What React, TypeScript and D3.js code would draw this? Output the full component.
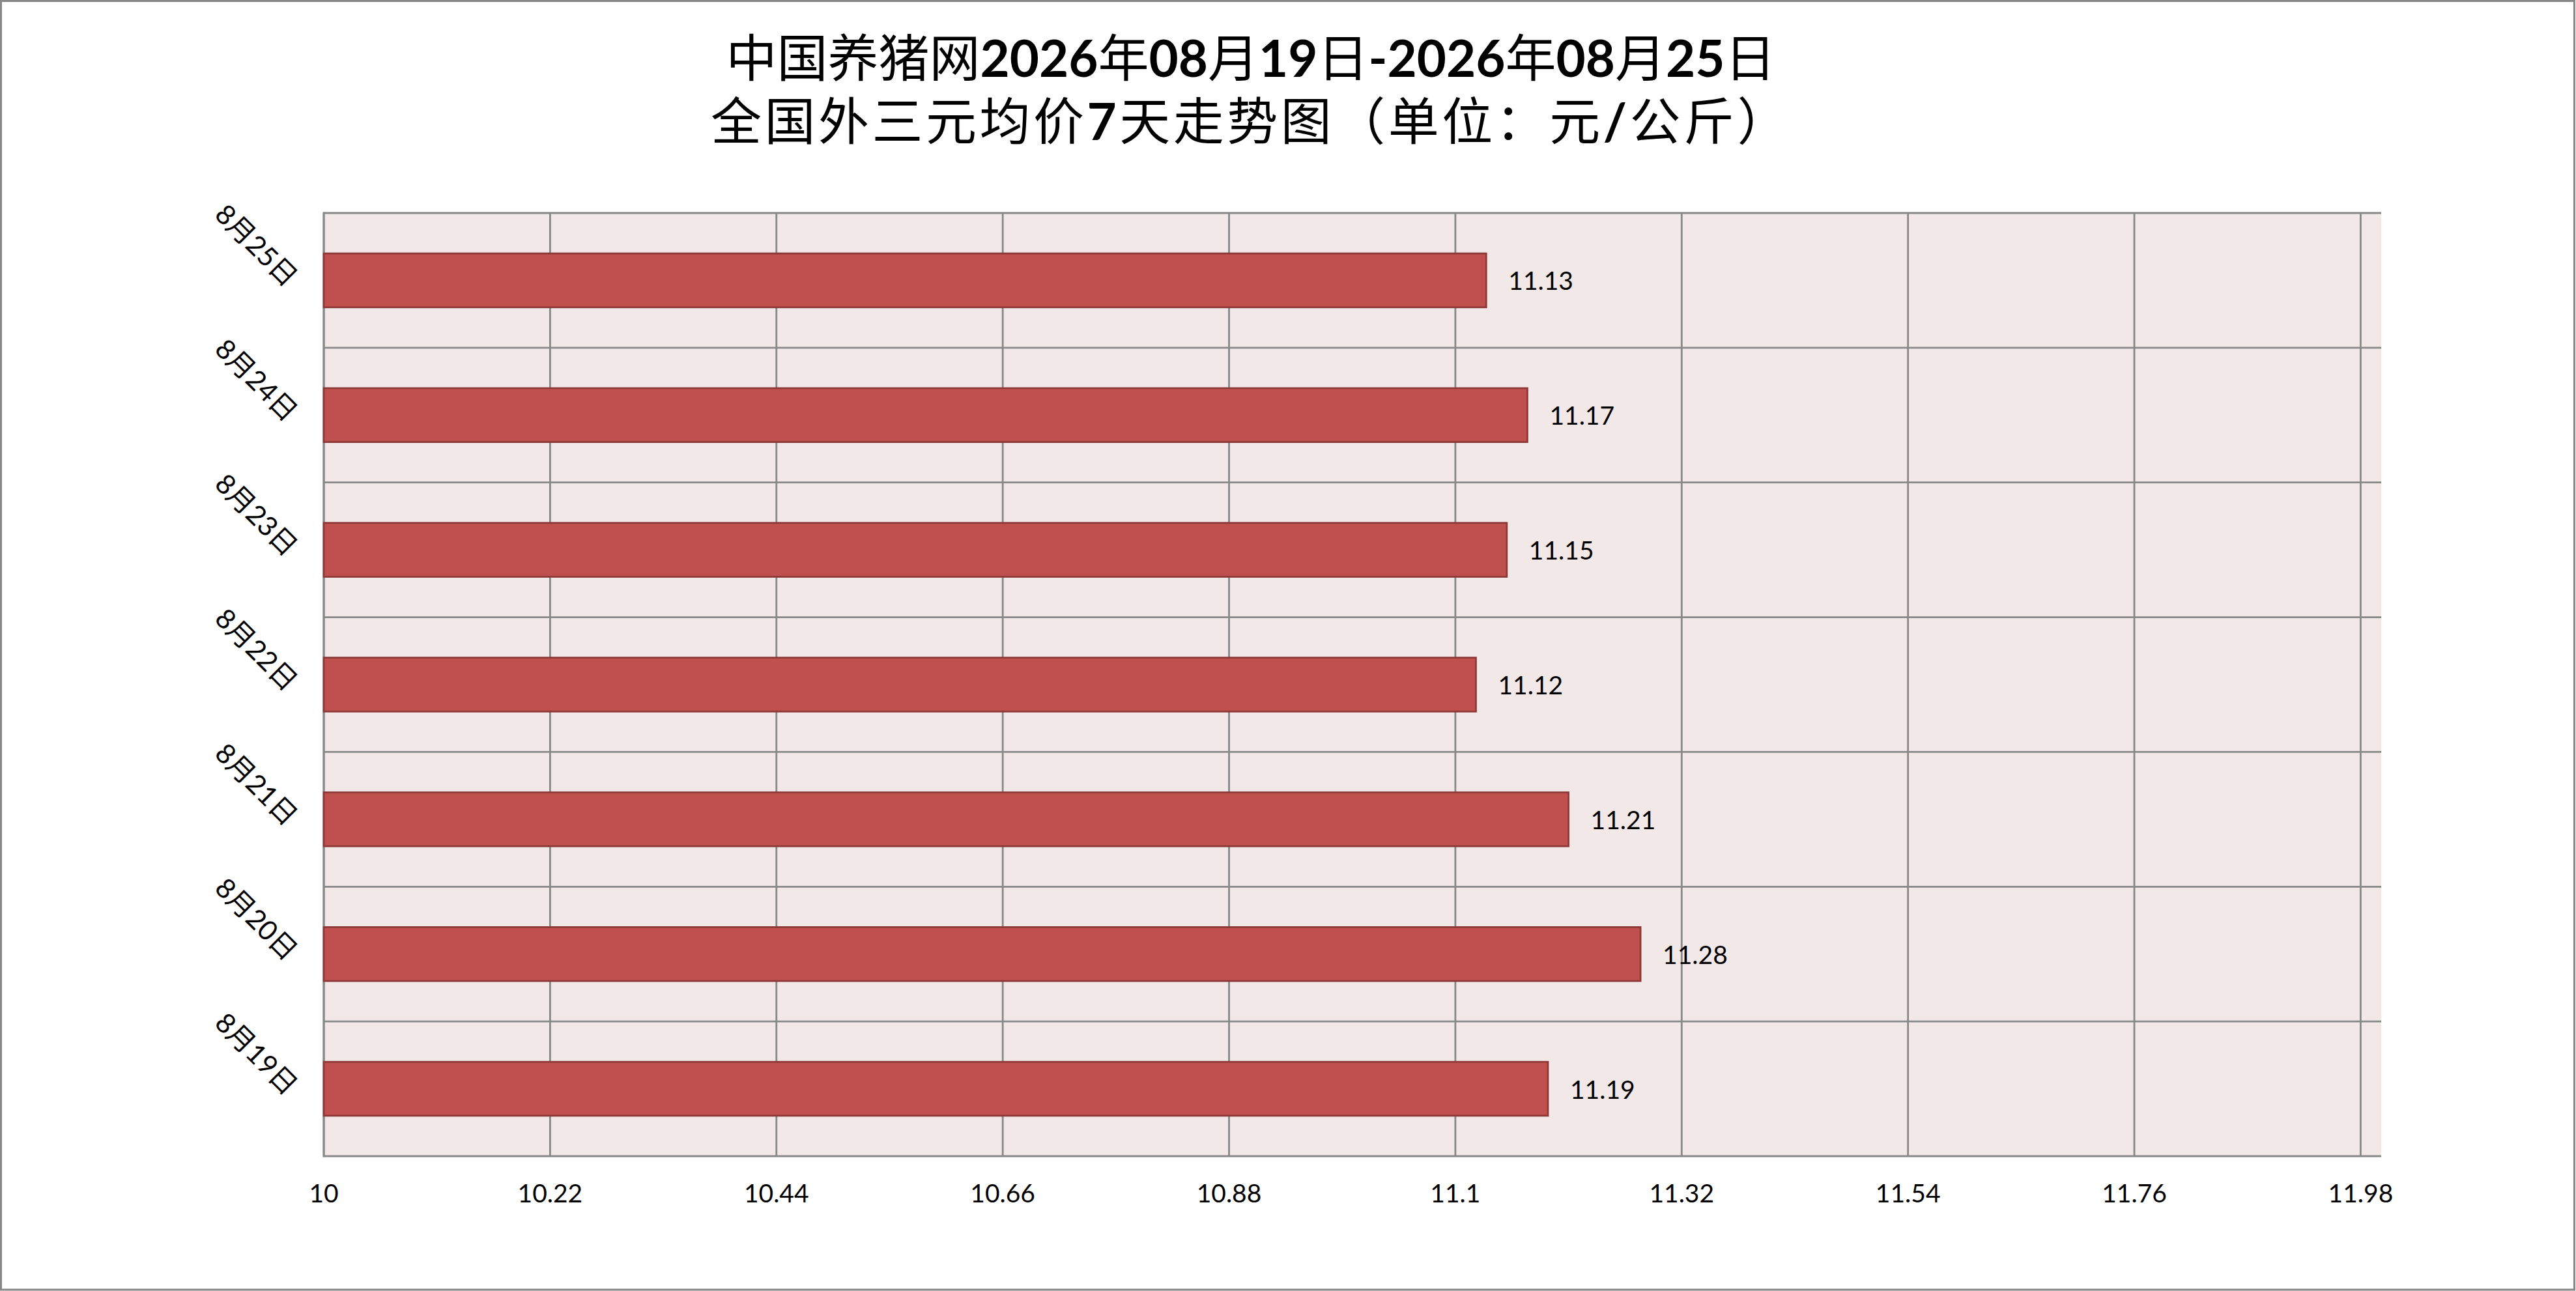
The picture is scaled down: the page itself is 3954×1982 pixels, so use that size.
import React, { useEffect, useRef } from "react";
import * as d3 from "d3";

// chart data
const categories = ["8月19日", "8月20日", "8月21日", "8月22日", "8月23日", "8月24日", "8月25日"];
const prices = [11.19, 11.28, 11.21, 11.12, 11.15, 11.17, 11.13];
const tickValues = [10, 10.22, 10.44, 10.66, 10.88, 11.1, 11.32, 11.54, 11.76, 11.98];
const titleLine1 = [
  { t: "中国养猪网", b: false },
  { t: "2026", b: true },
  { t: "年", b: false },
  { t: "08", b: true },
  { t: "月", b: false },
  { t: "19", b: true },
  { t: "日", b: false },
  { t: "-2026", b: true },
  { t: "年", b: false },
  { t: "08", b: true },
  { t: "月", b: false },
  { t: "25", b: true },
  { t: "日", b: false },
];
const titleLine2 = [
  { t: "全国外三元均价", b: false },
  { t: "7", b: true },
  { t: "天走势图（单位：元", b: false },
  { t: "/", b: true },
  { t: "公斤）", b: false },
];

const W = 3954;
const H = 1982;
const FONT = "Lato, 'Noto Sans CJK SC', sans-serif";
const CJK = "'Noto Sans CJK SC', sans-serif";

const App: React.FC = () => {
  const ref = useRef<SVGSVGElement | null>(null);

  useEffect(() => {
    if (!ref.current) return;
    const svg = d3.select(ref.current);
    svg.selectAll("*").remove();

    const plot = { left: 497, right: 3655, top: 327, bottom: 1775 };

    const x = d3.scaleLinear().domain([10, 12]).range([plot.left, plot.right]);
    const y = d3
      .scaleBand<string>()
      .domain(categories.slice().reverse())
      .range([plot.top, plot.bottom])
      .paddingInner(0)
      .paddingOuter(0);

    // background + outer frame
    svg.append("rect").attr("x", 0).attr("y", 0).attr("width", W).attr("height", H).attr("fill", "#fff");
    svg
      .append("rect")
      .attr("x", 1.5)
      .attr("y", 1.5)
      .attr("width", W - 4)
      .attr("height", H - 3.5)
      .attr("fill", "none")
      .attr("stroke", "#878787")
      .attr("stroke-width", 3);

    // plot area
    svg
      .append("rect")
      .attr("x", plot.left)
      .attr("y", plot.top)
      .attr("width", plot.right - plot.left)
      .attr("height", plot.bottom - plot.top)
      .attr("fill", "#F2E8E8");

    // vertical gridlines
    svg
      .append("g")
      .selectAll("line")
      .data(tickValues)
      .join("line")
      .attr("x1", (d) => x(d))
      .attr("x2", (d) => x(d))
      .attr("y1", plot.top)
      .attr("y2", plot.bottom)
      .attr("stroke", "#888")
      .attr("stroke-width", 2.8);

    // horizontal gridlines at band edges
    const edges = categories.map((c) => y(c) as number).concat([plot.bottom]);
    svg
      .append("g")
      .selectAll("line")
      .data(edges)
      .join("line")
      .attr("x1", plot.left)
      .attr("x2", plot.right)
      .attr("y1", (d) => d)
      .attr("y2", (d) => d)
      .attr("stroke", "#888")
      .attr("stroke-width", 2.8);

    // left axis line
    svg
      .append("line")
      .attr("x1", plot.left)
      .attr("x2", plot.left)
      .attr("y1", plot.top - 1.4)
      .attr("y2", plot.bottom + 1.4)
      .attr("stroke", "#888")
      .attr("stroke-width", 3);

    // bars
    const bh = y.bandwidth() * 0.4;
    const rows = categories.map((c, i) => ({ c, v: prices[i] }));
    svg
      .append("g")
      .selectAll("rect")
      .data(rows)
      .join("rect")
      .attr("x", x(10))
      .attr("y", (d) => (y(d.c) as number) + y.bandwidth() / 2 - bh / 2)
      .attr("width", (d) => x(d.v) - x(10))
      .attr("height", bh)
      .attr("fill", "#C0504D")
      .attr("stroke", "#8C3836")
      .attr("stroke-width", 2.7);

    // data labels
    svg
      .append("g")
      .selectAll("text")
      .data(rows)
      .join("text")
      .attr("x", (d) => x(d.v) + 34)
      .attr("y", (d) => (y(d.c) as number) + y.bandwidth() / 2 + 15)
      .attr("font-family", FONT)
      .attr("font-size", 39)
      .attr("fill", "#000")
      .text((d) => d.v.toFixed(2));

    // x tick labels
    svg
      .append("g")
      .selectAll("text")
      .data(tickValues)
      .join("text")
      .attr("x", (d) => x(d))
      .attr("y", 1846)
      .attr("text-anchor", "middle")
      .attr("font-family", FONT)
      .attr("font-size", 39)
      .attr("fill", "#000")
      .text((d) => String(d));

    // category labels, rotated 45deg
    svg
      .append("g")
      .selectAll("text")
      .data(categories)
      .join("text")
      .attr("transform", (d) => `translate(449,${(y(d) as number) + y.bandwidth() / 2 + 2}) rotate(45)`)
      .attr("text-anchor", "end")
      .attr("dy", "0.35em")
      .attr("font-family", FONT)
      .attr("font-size", 42)
      .attr("fill", "#000")
      .text((d) => d);

    // title
    const addTitle = (runs: { t: string; b: boolean }[], yy: number, ls: number) => {
      const t = svg
        .append("text")
        .attr("x", 1920)
        .attr("y", yy)
        .attr("text-anchor", "middle")
        .attr("font-size", 78)
        .attr("letter-spacing", ls)
        .attr("fill", "#000");
      runs.forEach((r) => {
        t.append("tspan")
          .attr("font-family", r.b ? FONT : CJK)
          .attr("font-weight", r.b ? "bold" : "normal")
          .text(r.t);
      });
    };
    addTitle(titleLine1, 118, 0);
    addTitle(titleLine2, 215, 4.5);
  }, []);

  return (
    <svg
      ref={ref}
      width={W}
      height={H}
      style={{ position: "absolute", left: 0, top: 0, display: "block" }}
    />
  );
};

export default App;
